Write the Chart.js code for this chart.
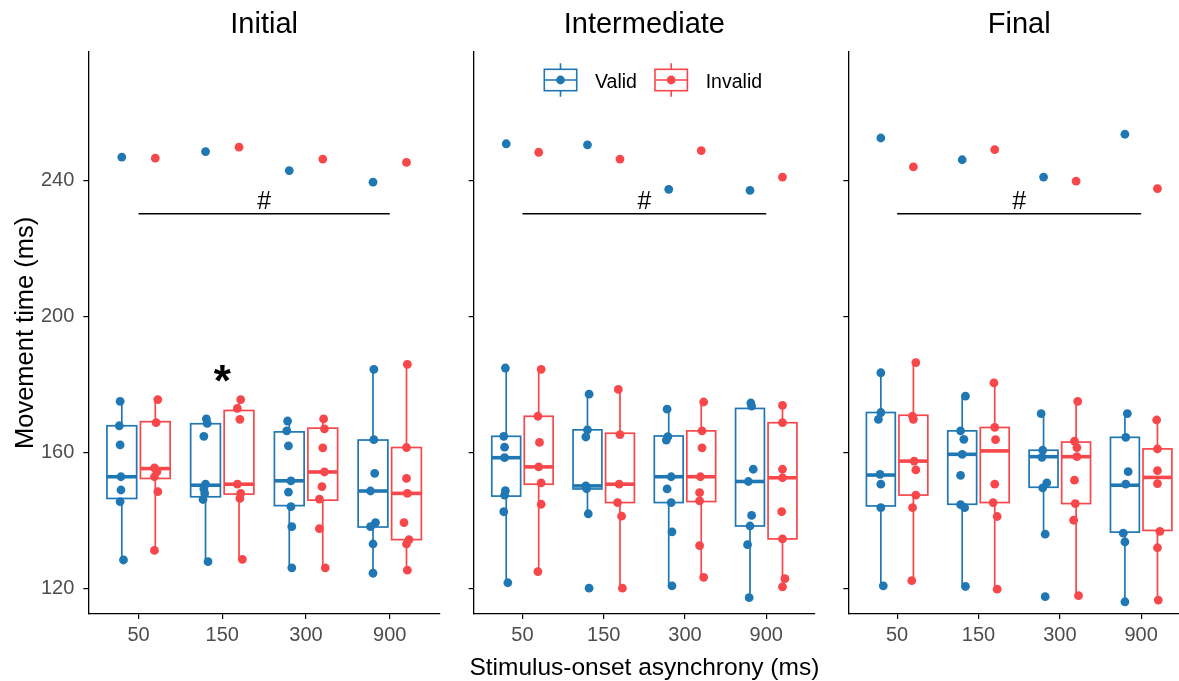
<!DOCTYPE html>
<html>
<head>
<meta charset="utf-8">
<script src="https://cdn.jsdelivr.net/npm/chart.js@4.4.1/dist/chart.umd.min.js"></script>
<style>
  html, body { margin: 0; padding: 0; background: #fff; overflow: hidden; width: 1179px; height: 681px; }
  .panel { position: absolute; top: 0; height: 681px; }
</style>
</head>
<body>
<div class="panel" style="left:0;width:450px"><canvas id="panel0" width="450" height="681"></canvas></div>
<div class="panel" style="left:450px;width:375px"><canvas id="panel1" width="375" height="681"></canvas></div>
<div class="panel" style="left:825px;width:375px"><canvas id="panel2" width="375" height="681"></canvas></div>
<script>
const phases = ['Initial', 'Intermediate', 'Final'];
const soaLabels = ['50', '150', '300', '900'];
const yTicks = [120, 160, 200, 240];

// boxes per phase and SOA: [lower whisker, Q1, median, Q3, upper whisker]
const validBoxes = [
  [[128.4, 146.5, 152.9, 167.9, 175.1], [127.9, 147.0, 150.4, 168.5, 169.9], [126.1, 144.4, 151.7, 166.1, 169.3], [124.5, 138.1, 148.7, 163.7, 184.5]],
  [[121.7, 147.2, 158.5, 164.8, 184.9], [142.0, 149.3, 150.2, 166.7, 177.2], [120.8, 145.3, 152.9, 164.9, 172.8], [117.3, 138.4, 151.5, 173.0, 174.6]],
  [[120.8, 144.3, 153.4, 171.8, 183.5], [120.6, 144.8, 159.5, 166.4, 176.6], [136.0, 149.8, 158.8, 160.7, 171.5], [115.6, 136.6, 150.4, 164.5, 171.5]]
];
const invalidBoxes = [
  [[131.2, 152.4, 155.3, 169.1, 175.6], [128.6, 147.8, 150.7, 172.4, 175.6], [126.1, 146.0, 154.3, 167.2, 169.9], [125.4, 134.4, 148.0, 161.5, 186.0]],
  [[125.0, 150.7, 155.8, 170.7, 184.5], [120.1, 145.3, 150.7, 165.7, 178.6], [123.3, 145.6, 152.9, 166.4, 174.9], [120.5, 134.6, 152.6, 168.8, 173.9]],
  [[122.3, 147.5, 157.5, 171.0, 186.5], [119.8, 145.3, 160.5, 167.4, 180.5], [118.2, 145.0, 158.8, 163.1, 175.1], [116.6, 137.1, 152.7, 161.1, 169.6]]
];

// participant means (ms) per phase and SOA
const validPoints = [
  [[175.1, 167.9, 162.3, 152.9, 149.0, 145.6, 128.4], [169.9, 168.6, 164.8, 150.7, 149.3, 148.0, 146.2, 127.9],
   [169.3, 166.4, 162.0, 151.7, 148.4, 144.1, 138.2, 126.1], [184.5, 163.8, 153.9, 148.7, 139.4, 138.2, 133.1, 124.5]],
  [[184.9, 164.8, 161.6, 158.5, 148.8, 147.5, 142.6, 121.7], [177.2, 166.7, 164.6, 150.2, 149.4, 142.0, 120.1],
   [172.8, 164.7, 163.7, 152.9, 149.3, 145.3, 136.7, 120.8], [174.6, 173.7, 155.1, 151.5, 141.5, 138.4, 132.9, 117.3]],
  [[183.5, 171.8, 169.8, 153.6, 150.7, 143.8, 120.8], [176.6, 166.4, 163.9, 159.5, 153.3, 144.7, 143.8, 120.6],
   [171.5, 160.7, 158.6, 151.1, 149.6, 136.0, 117.6], [171.5, 164.5, 154.4, 150.7, 136.3, 133.7, 116.1]]
];
const validJitter = [
  [[-0.02, -0.03, -0.02, -0.01, -0.01, -0.02, 0.02], [0.01, 0.02, -0.02, 0, -0.02, -0.01, -0.03, 0.03],
   [-0.02, -0.03, -0.01, 0.02, -0.01, 0.02, 0.03, 0.03], [0.01, 0.01, 0.02, -0.03, 0.03, -0.03, 0, 0]],
  [[-0.01, -0.03, -0.02, -0.02, -0.01, -0.02, -0.03, 0.02], [0.02, 0, -0.02, -0.02, -0.01, 0.01, 0.02],
   [-0.02, -0.01, -0.03, 0.03, -0.02, 0.03, 0.04, 0.04], [0.01, 0.02, 0.04, -0.02, 0.02, 0, -0.03, -0.01]],
  [[0, 0, -0.03, -0.01, 0, 0, 0.03], [0.04, -0.02, 0.02, 0, -0.02, -0.02, 0.03, 0.04],
   [-0.03, -0.01, -0.02, 0.04, -0.01, 0.02, 0.02], [0.03, 0.01, 0.04, 0.01, -0.02, 0, 0]]
];
const invalidPoints = [
  [[175.6, 168.8, 155.5, 154.4, 152.9, 148.5, 131.2], [175.6, 173.0, 169.8, 150.7, 148.0, 146.5, 128.6],
   [169.9, 167.0, 161.4, 154.3, 150.0, 146.3, 137.6, 126.1], [186.0, 161.5, 152.4, 148.0, 139.4, 134.4, 133.1, 125.4]],
  [[184.5, 170.7, 163.0, 155.8, 151.1, 144.8, 125.0], [178.6, 165.3, 150.7, 145.3, 141.3, 120.1],
   [174.9, 166.4, 161.4, 152.9, 148.2, 145.8, 132.6, 123.3], [173.9, 168.8, 155.1, 152.6, 142.6, 134.6, 122.9, 120.5]],
  [[186.5, 170.7, 169.8, 157.5, 154.9, 147.5, 143.8, 122.3], [180.5, 167.4, 163.8, 150.7, 145.3, 141.2, 119.8],
   [175.1, 163.4, 161.5, 158.8, 151.9, 145.0, 140.1, 117.9], [169.6, 161.1, 154.7, 150.9, 136.8, 132.0, 116.6]]
];
const invalidJitter = [
  [[0.03, 0.01, -0.01, 0.02, -0.01, 0.03, -0.01], [0.02, -0.02, 0.01, -0.02, 0.02, 0.01, 0.04],
   [0.01, 0.02, 0, 0.02, -0.01, -0.04, -0.04, 0.03], [0.01, 0, 0, 0.01, -0.03, 0.03, 0, 0.01]],
  [[0.03, -0.01, 0.01, 0, 0.03, 0.03, -0.01], [-0.02, 0, -0.01, -0.03, 0.02, 0.03],
   [0.03, 0.01, 0.01, -0.01, -0.02, -0.02, -0.02, 0.03], [0, 0, 0, 0, -0.01, 0, 0.03, 0]],
  [[0.03, -0.01, 0, 0.01, 0.03, 0.03, -0.01, -0.02], [-0.01, 0, 0.01, 0, -0.02, 0.03, 0.03],
   [0.02, -0.02, 0.01, 0.01, -0.02, -0.01, -0.03, 0.03], [-0.01, 0, 0, 0, 0.03, 0, 0.01]]
];

// high outliers, one per SOA
const validOutliers = [[247.0, 248.6, 243.0, 239.6], [250.9, 250.6, 237.5, 237.2], [252.6, 246.2, 241.1, 253.7]];
const invalidOutliers = [[246.7, 249.9, 246.4, 245.4], [248.4, 246.4, 248.9, 241.1], [244.1, 249.2, 239.9, 237.7]];

const hashLevel = 230.3;   // SOA main effect bracket
const starLevel = 183.4;   // Initial, 150 ms

const BLUE = '#1f77b4';
const RED = '#f8474b';
const FONT = '"Liberation Sans", Arial, sans-serif';
const DODGE = 0.2;
const BOX_W = 0.355;
const DOT_R = 4.4;

function scatterData(points, jitter, side) {
  const out = [];
  points.forEach((vals, k) => vals.forEach((v, j) => out.push({ x: k + 1 + side * DODGE + jitter[k][j], y: v })));
  return out;
}
function outlierData(vals, side) {
  return vals.map((v, k) => ({ x: k + 1 + side * DODGE, y: v }));
}

const boxPlugin = {
  id: 'boxes',
  beforeDatasetsDraw(chart, args, opts) {
    const { ctx, scales: { x, y } } = chart;
    const p = opts.panel;
    [[validBoxes[p], BLUE, -1], [invalidBoxes[p], RED, 1]].forEach(([boxes, col, side]) => {
      boxes.forEach((b, k) => {
        const c = k + 1 + side * DODGE;
        const cx = x.getPixelForValue(c);
        const l = x.getPixelForValue(c - BOX_W / 2), r = x.getPixelForValue(c + BOX_W / 2);
        const [lo, q1, med, q3, hi] = b.map(v => y.getPixelForValue(v));
        ctx.save();
        ctx.strokeStyle = col;
        ctx.lineWidth = 1.7;
        ctx.beginPath();
        ctx.moveTo(cx, lo); ctx.lineTo(cx, q1);
        ctx.moveTo(cx, q3); ctx.lineTo(cx, hi);
        ctx.stroke();
        ctx.strokeRect(l, q3, r - l, q1 - q3);
        ctx.lineWidth = 3.6;
        ctx.beginPath();
        ctx.moveTo(l, med); ctx.lineTo(r, med);
        ctx.stroke();
        ctx.restore();
      });
    });
  },
  afterDraw(chart, args, opts) {
    const { ctx, chartArea: ca, scales: { x, y } } = chart;
    const p = opts.panel;
    ctx.save();
    ctx.fillStyle = '#000';
    ctx.textAlign = 'center';
    ctx.textBaseline = 'alphabetic';

    // facet title
    ctx.font = `29px ${FONT}`;
    ctx.fillText(phases[p], (ca.left + ca.right) / 2, 32.7);

    // bracket with #
    const hy = y.getPixelForValue(hashLevel);
    ctx.strokeStyle = '#000';
    ctx.lineWidth = 1.3;
    ctx.beginPath();
    ctx.moveTo(x.getPixelForValue(1), hy);
    ctx.lineTo(x.getPixelForValue(4), hy);
    ctx.stroke();
    ctx.font = `25px ${FONT}`;
    ctx.fillText('#', x.getPixelForValue(2.5), hy - 5);

    if (p === 0) {
      ctx.font = `bold 44px ${FONT}`;
      const m = ctx.measureText('*');
      const sy = y.getPixelForValue(starLevel) + (m.actualBoundingBoxAscent - m.actualBoundingBoxDescent) / 2;
      ctx.fillText('*', x.getPixelForValue(2), sy);

      ctx.save();
      ctx.translate(33, (ca.top + ca.bottom) / 2);
      ctx.rotate(-Math.PI / 2);
      ctx.font = `25.5px ${FONT}`;
      ctx.fillText('Movement time (ms)', 0, 0);
      ctx.restore();
    }

    if (p === 1) {
      ctx.font = `24.5px ${FONT}`;
      ctx.fillText('Stimulus-onset asynchrony (ms)', (ca.left + ca.right) / 2, 675);

      // legend
      const entries = [['Valid', BLUE, 70.6, 121.3], ['Invalid', RED, 181.3, 232]];
      entries.forEach(([label, col, gx, tx]) => {
        const l = ca.left + gx, w = 32.4, cx = l + w / 2;
        ctx.strokeStyle = col;
        ctx.lineWidth = 1.6;
        ctx.beginPath();
        ctx.moveTo(cx, 63.3); ctx.lineTo(cx, 69.3);
        ctx.moveTo(cx, 90.7); ctx.lineTo(cx, 96.7);
        ctx.moveTo(l, 80); ctx.lineTo(l + w, 80);
        ctx.stroke();
        ctx.strokeRect(l, 69.3, w, 21.4);
        ctx.fillStyle = col;
        ctx.beginPath();
        ctx.arc(cx, 80, DOT_R, 0, Math.PI * 2);
        ctx.fill();
        ctx.fillStyle = '#000';
        ctx.textAlign = 'left';
        ctx.font = `19.5px ${FONT}`;
        ctx.fillText(label, ca.left + tx, 88.3);
        ctx.textAlign = 'center';
      });
    }
    ctx.restore();
  }
};

const panelWidths = [88.3, 23.7, 23.3];

phases.forEach((name, p) => {
  new Chart(document.getElementById('panel' + p), {
    type: 'scatter',
    data: {
      datasets: [
        { label: 'Valid', data: scatterData(validPoints[p], validJitter[p], -1), backgroundColor: BLUE },
        { label: 'Invalid', data: scatterData(invalidPoints[p], invalidJitter[p], 1), backgroundColor: RED },
        { label: 'Valid outliers', data: outlierData(validOutliers[p], -1), backgroundColor: BLUE },
        { label: 'Invalid outliers', data: outlierData(invalidOutliers[p], 1), backgroundColor: RED }
      ]
    },
    options: {
      responsive: false,
      animation: false,
      devicePixelRatio: 1,
      layout: { padding: { top: 51.7, right: 10, bottom: 0, left: 0 } },
      elements: { point: { radius: DOT_R, borderWidth: 0, hoverRadius: DOT_R } },
      plugins: { legend: { display: false }, tooltip: { enabled: false }, boxes: { panel: p } },
      scales: {
        x: {
          type: 'linear', min: 0.4, max: 4.6,
          afterBuildTicks: s => { s.ticks = soaLabels.map((_, i) => ({ value: i + 1 })); },
          afterFit: s => { s.height = 67; },
          ticks: { callback: v => soaLabels[v - 1], color: '#4d4d4d', font: { family: FONT, size: 20 }, padding: 4, maxRotation: 0 },
          grid: { display: true, drawOnChartArea: false, drawTicks: true, tickLength: 5, color: '#000', lineWidth: 1.2 },
          border: { display: true, color: '#000', width: 1.3 }
        },
        y: {
          type: 'linear', min: 112.5, max: 278,
          afterBuildTicks: s => { s.ticks = yTicks.map(v => ({ value: v })); },
          afterFit: s => { s.width = panelWidths[p]; },
          ticks: { display: p === 0, color: '#4d4d4d', font: { family: FONT, size: 20 }, padding: 9 },
          grid: { display: true, drawOnChartArea: false, drawTicks: true, tickLength: 5, color: '#000', lineWidth: 1.2 },
          border: { display: true, color: '#000', width: 1.3 }
        }
      }
    },
    plugins: [boxPlugin]
  });
});
</script>
</body>
</html>
